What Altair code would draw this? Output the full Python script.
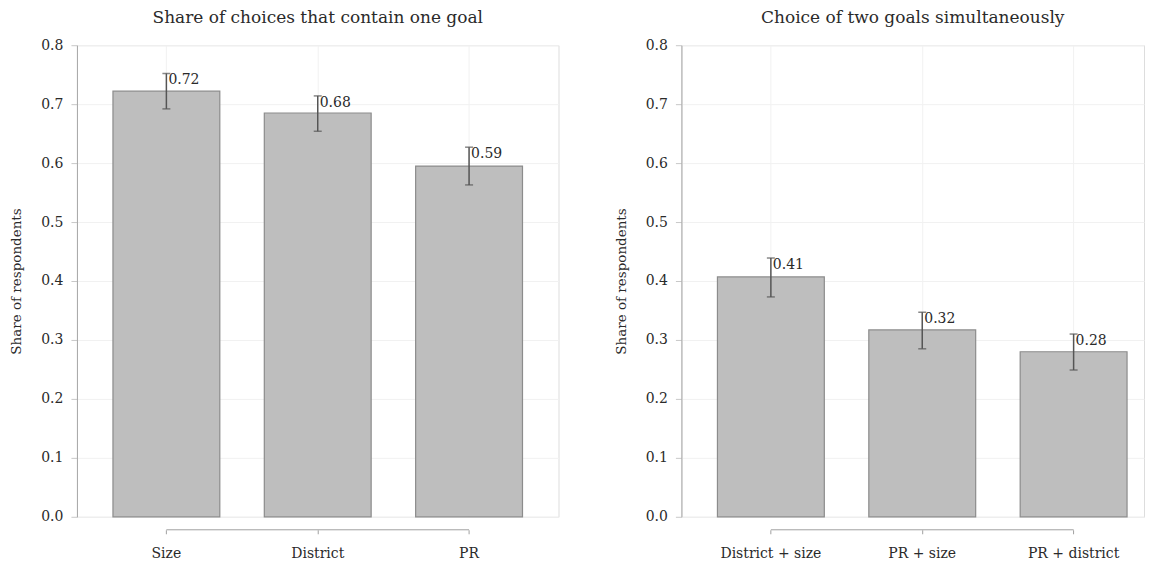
import altair as alt
import pandas as pd

# ---- data ----
left_cats = ["Size", "District", "PR"]
left_vals = [0.722, 0.685, 0.595]
left_lo = [0.692, 0.654, 0.563]
left_hi = [0.752, 0.714, 0.627]
left_labels = ["0.72", "0.68", "0.59"]

right_cats = ["District + size", "PR + size", "PR + district"]
right_vals = [0.407, 0.317, 0.280]
right_lo = [0.373, 0.285, 0.249]
right_hi = [0.439, 0.347, 0.310]
right_labels = ["0.41", "0.32", "0.28"]

y_ticks = [0.0, 0.1, 0.2, 0.3, 0.4, 0.5, 0.6, 0.7, 0.8]

SERIF = "DejaVu Serif"
TXT = "#2a2a2a"
H = 472


def panel(cats, vals, lo, hi, labels, title, width, pad_outer, align):
    df = pd.DataFrame({"cat": cats, "val": vals, "lo": lo, "hi": hi, "lab": labels})
    xscale = alt.Scale(domain=cats, paddingInner=0.294, paddingOuter=pad_outer, align=align)
    x = alt.X(
        "cat:N",
        sort=cats,
        scale=xscale,
        axis=alt.Axis(
            title=None,
            domain=False,
            offset=13,
            tickSize=4,
            tickColor="#a0a0a0",
            labelPadding=13,
            labelFont=SERIF,
            labelFontSize=14,
            labelColor=TXT,
            labelAngle=0,
            grid=True,
            gridColor="#f1f1f1",
            gridWidth=1,
        ),
    )
    y = alt.Y(
        "val:Q",
        scale=alt.Scale(domain=[0, 0.8], nice=False, zero=True),
        axis=alt.Axis(
            values=y_ticks,
            format=".1f",
            title="Share of respondents",
            titleFont=SERIF,
            titleFontSize=13.5,
            titleFontWeight="normal",
            titleColor=TXT,
            titlePadding=17,
            labelFont=SERIF,
            labelFontSize=14,
            labelColor=TXT,
            labelPadding=8,
            tickSize=6,
            tickColor="#c8c8c8",
            domainColor="#a8a8a8",
            domainWidth=1,
            grid=True,
            gridColor="#f1f1f1",
            gridWidth=1,
        ),
    )
    bars = alt.Chart(df).mark_bar(
        color="#bebebe", stroke="#8c8c8c", strokeWidth=1.2
    ).encode(x=x, y=y)
    err = alt.Chart(df).mark_rule(color="#555555", strokeWidth=1.5).encode(
        x=alt.X("cat:N", sort=cats), y="lo:Q", y2="hi:Q"
    )
    caps_hi = alt.Chart(df).mark_tick(color="#555555", thickness=1.5, size=8).encode(
        x=alt.X("cat:N", sort=cats), y="hi:Q"
    )
    caps_lo = alt.Chart(df).mark_tick(color="#555555", thickness=1.5, size=8).encode(
        x=alt.X("cat:N", sort=cats), y="lo:Q"
    )
    text = alt.Chart(df).mark_text(
        align="left", baseline="top", dx=2, dy=0, font=SERIF, fontSize=14, color=TXT
    ).encode(x=alt.X("cat:N", sort=cats), y="hi:Q", text="lab:N")
    axis_df = pd.DataFrame({"a": [cats[0]], "b": [cats[-1]]})
    axis_line = alt.Chart(axis_df).mark_rule(color="#a0a0a0", strokeWidth=1).encode(
        x=alt.X("a:N", sort=cats), x2="b:N", y=alt.value(H + 13)
    )
    return alt.layer(bars, err, caps_hi, caps_lo, text, axis_line).properties(
        width=width,
        height=H,
        title=alt.TitleParams(
            title, font=SERIF, fontSize=17, fontWeight="normal", color=TXT, offset=11
        ),
    )


left = panel(left_cats, left_vals, left_lo, left_hi, left_labels,
             "Share of choices that contain one goal", 482, 0.238, 0.5)
right = panel(right_cats, right_vals, right_lo, right_hi, right_labels,
              "Choice of two goals simultaneously", 463, 0.175, 0.68)

chart = alt.hconcat(left, right, spacing=54).properties(
    padding={"left": 1, "top": 0, "right": 0, "bottom": 0}
).configure_view(stroke=None).configure(background="white")

chart.save("out.html", embed_options={"renderer": "svg", "actions": False})
